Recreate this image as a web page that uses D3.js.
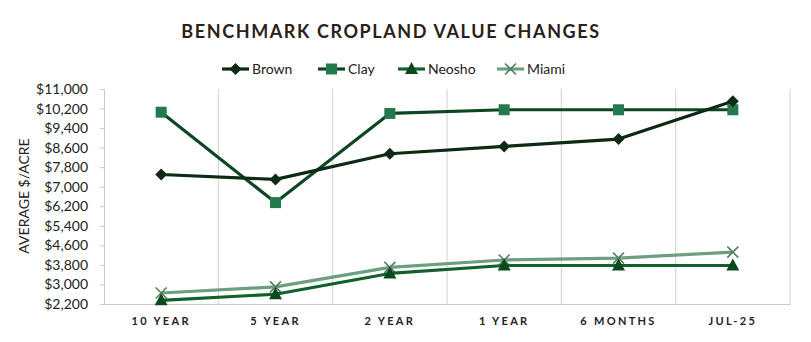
<!DOCTYPE html>
<html><head><meta charset="utf-8">
<script src="https://cdn.jsdelivr.net/npm/d3@7"></script>
<style>body{margin:0;background:#fff}svg{display:block}</style>
</head><body><svg id="c" width="811" height="342"></svg>
<script>
const categories = ["10 YEAR","5 YEAR","2 YEAR","1 YEAR","6 MONTHS","JUL-25"];
const brown  = [7500, 7300, 8350, 8650, 8950, 10500];
const clay   = [10050, 6350, 10000, 10150, 10150, 10150];
const neosho = [2350, 2600, 3450, 3775, 3775, 3775];
const miami  = [2650, 2900, 3700, 4000, 4080, 4325];
const yTicks = [2200,3000,3800,4600,5400,6200,7000,7800,8600,9400,10200,11000];
const seriesNames = ["Brown","Clay","Neosho","Miami"];

const series = [
  {name:"Brown", values:brown, line:"#0c2a14", marker:"#0c2a14", shape:"diamond"},
  {name:"Clay", values:clay, line:"#0d4622", marker:"#247a4c", shape:"square"},
  {name:"Neosho", values:neosho, line:"#11612d", marker:"#0b4a1c", shape:"triangle"},
  {name:"Miami", values:miami, line:"#6c9e80", marker:"#557d66", shape:"x"}
];

const FONT = "Lato, 'Open Sans', sans-serif";
const svg = d3.select("#c");
const L=104, R=790, T=89, B=304;
const x = d3.scaleBand().domain(categories).range([L,R]);
const y = d3.scaleLinear().domain([2200,11000]).range([B,T]);

// title
svg.append("text").attr("x",391).attr("y",38).attr("text-anchor","middle")
  .attr("font-family",FONT).attr("font-weight","bold")
  .attr("font-size",18).attr("letter-spacing",1.6).attr("fill","#2a2119")
  .text("BENCHMARK CROPLAND VALUE CHANGES");

// vertical gridlines at category boundaries
svg.append("g").selectAll("line").data(categories).join("line")
  .attr("x1",d=>x(d)+x.bandwidth()).attr("x2",d=>x(d)+x.bandwidth())
  .attr("y1",T).attr("y2",B).attr("stroke","#d0d0d0").attr("stroke-width",1);

// y axis
const yAxis = d3.axisLeft(y).tickValues(yTicks).tickSize(4).tickFormat(d=>"$"+d3.format(",")(d));
const gy = svg.append("g").attr("transform",`translate(${L},0)`).call(yAxis);
gy.select(".domain").attr("stroke","#c8c8c8");
gy.selectAll(".tick line").attr("stroke","#c8c8c8");
gy.selectAll(".tick text").attr("font-family",FONT).attr("font-size",14)
  .attr("fill","#222").attr("x",-16);

// x axis
const xAxis = d3.axisBottom(x).tickSize(0).tickPadding(13);
const gx = svg.append("g").attr("transform",`translate(0,${B})`).call(xAxis);
gx.select(".domain").attr("stroke","#c8c8c8");
gx.selectAll(".tick text").attr("font-family",FONT).attr("font-size",11)
  .attr("font-weight","bold").attr("letter-spacing",2.3).attr("fill","#222");

// y title
svg.append("text").attr("transform","translate(29,196) rotate(-90)").attr("text-anchor","middle")
  .attr("font-family",FONT).attr("font-size",14).attr("fill","#222")
  .text("AVERAGE $/ACRE");

function drawMarker(g, shape, cx, cy, color){
  if(shape==="diamond"){
    g.append("path").attr("d",`M${cx},${cy-6}L${cx+6},${cy}L${cx},${cy+6}L${cx-6},${cy}Z`).attr("fill",color);
  } else if(shape==="square"){
    g.append("rect").attr("x",cx-5.5).attr("y",cy-5.5).attr("width",11).attr("height",11).attr("fill",color);
  } else if(shape==="triangle"){
    g.append("path").attr("d",`M${cx},${cy-7}L${cx+6.5},${cy+5}L${cx-6.5},${cy+5}Z`).attr("fill",color);
  } else {
    g.append("path").attr("d",`M${cx-5.5},${cy-5.5}L${cx+5.5},${cy+5.5}M${cx+5.5},${cy-5.5}L${cx-5.5},${cy+5.5}`)
      .attr("stroke",color).attr("stroke-width",1.6).attr("fill","none");
  }
}

const line = d3.line().x((d,i)=>x(categories[i])+x.bandwidth()/2).y(d=>y(d));
[3,2,1,0].forEach(k=>{
  const s = series[k];
  const g = svg.append("g");
  g.append("path").attr("d",line(s.values)).attr("fill","none").attr("stroke",s.line)
    .attr("stroke-width",3.2).attr("stroke-linejoin","round");
  s.values.forEach((v,i)=>drawMarker(g,s.shape,x(categories[i])+x.bandwidth()/2,y(v),s.marker));
});

// legend
const legX = [222, 318, 398, 497];
series.forEach((s,i)=>{
  const g = svg.append("g");
  const lx = legX[i], ly = 69;
  g.append("line").attr("x1",lx).attr("x2",lx+27).attr("y1",ly).attr("y2",ly)
    .attr("stroke",s.line).attr("stroke-width",3.2);
  drawMarker(g, s.shape, lx+13.5, ly, s.marker);
  g.append("text").attr("x",lx+30).attr("y",ly+5).attr("font-family",FONT)
    .attr("font-size",14).attr("fill","#222").text(seriesNames[i]);
});
</script></body></html>
